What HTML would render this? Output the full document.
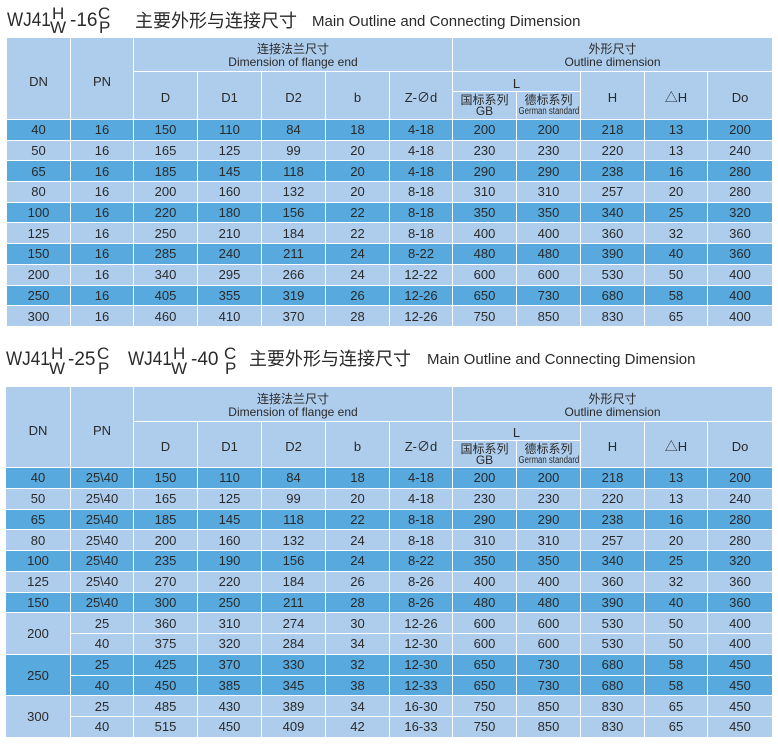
<!DOCTYPE html>
<html><head><meta charset="utf-8">
<style>
*{margin:0;padding:0;box-sizing:border-box}
body{width:778px;height:744px;background:#fff;position:relative;overflow:hidden;font-family:"Liberation Sans","Noto Sans CJK SC",sans-serif;color:#2a2a2a}
.t{position:absolute;white-space:nowrap;line-height:1}
.big{font-size:19px}
.sx{transform:scaleX(0.9);transform-origin:0 0}
.sm{font-size:17px}
.cn{font-size:18px;line-height:18px}
.en{font-size:15px}
.g{position:absolute;display:grid;gap:1px;background:#fff}
.g1{left:7px;top:38px;width:765px;grid-template-columns:63px 62px 63px 63px 63px 63px 62px 63px 63px 63px 62px 64px;grid-template-rows:33px 19px 27px repeat(10,19.7px)}
.g2{left:6px;top:387px;width:766px;grid-template-columns:64px 62px 63px 63px 63px 63px 62px 63px 63px 63px 62px 64px;grid-template-rows:34px 18px 26px repeat(13,19.75px)}
.g>*{display:flex;align-items:center;justify-content:center;text-align:center;font-size:13px;background:#aecdec;font-style:normal;font-weight:normal;white-space:nowrap;line-height:1;overflow:hidden}
.g>b{background:#57a9de}
.g>.h1{grid-row:span 3;padding-top:6px}
.g>.h2{grid-column:span 5;flex-direction:column;line-height:13px;font-size:12px;padding-top:3px}
.g>.h3{grid-row:span 2;padding-top:4px}
.g>.hL{grid-column:span 2;padding-top:3px}
.g>.h4{flex-direction:column;line-height:11px;font-size:12px;padding-top:1px}
.g>.r2{grid-row:span 2}
.gs{display:inline-block;font-size:10px;transform:scaleX(0.78);transform-origin:50% 50%;letter-spacing:0}
</style></head><body>

<div class="t big sx" style="left:7px;top:11px">WJ41</div>
<div class="t sm" style="left:52px;top:5px">H</div>
<div class="t sm" style="left:50px;top:19px">W</div>
<div class="t big" style="left:70px;top:11px">-16</div>
<div class="t sm" style="left:98px;top:5px">C</div>
<div class="t sm" style="left:99px;top:19px">P</div>
<div class="t cn" style="left:135px;top:12px">主要外形与连接尺寸</div>
<div class="t en" style="left:312px;top:14px">Main Outline and Connecting Dimension</div>

<div class="g g1">
<i class="h1">DN</i>
<i class="h1">PN</i>
<i class="h2"><span>连接法兰尺寸</span><span>Dimension of flange end</span></i>
<i class="h2"><span>外形尺寸</span><span>Outline dimension</span></i>
<i class="h3">D</i><i class="h3">D1</i><i class="h3">D2</i><i class="h3">b</i><i class="h3">Z-∅d</i>
<i class="hL">L</i>
<i class="h3">H</i><i class="h3">△H</i><i class="h3">Do</i>
<i class="h4"><span>国标系列</span><span>GB</span></i>
<i class="h4"><span>德标系列</span><span class="gs">German standard</span></i>

<b>40</b><b>16</b><b>150</b><b>110</b><b>84</b><b>18</b><b>4-18</b><b>200</b><b>200</b><b>218</b><b>13</b><b>200</b>
<i>50</i><i>16</i><i>165</i><i>125</i><i>99</i><i>20</i><i>4-18</i><i>230</i><i>230</i><i>220</i><i>13</i><i>240</i>
<b>65</b><b>16</b><b>185</b><b>145</b><b>118</b><b>20</b><b>4-18</b><b>290</b><b>290</b><b>238</b><b>16</b><b>280</b>
<i>80</i><i>16</i><i>200</i><i>160</i><i>132</i><i>20</i><i>8-18</i><i>310</i><i>310</i><i>257</i><i>20</i><i>280</i>
<b>100</b><b>16</b><b>220</b><b>180</b><b>156</b><b>22</b><b>8-18</b><b>350</b><b>350</b><b>340</b><b>25</b><b>320</b>
<i>125</i><i>16</i><i>250</i><i>210</i><i>184</i><i>22</i><i>8-18</i><i>400</i><i>400</i><i>360</i><i>32</i><i>360</i>
<b>150</b><b>16</b><b>285</b><b>240</b><b>211</b><b>24</b><b>8-22</b><b>480</b><b>480</b><b>390</b><b>40</b><b>360</b>
<i>200</i><i>16</i><i>340</i><i>295</i><i>266</i><i>24</i><i>12-22</i><i>600</i><i>600</i><i>530</i><i>50</i><i>400</i>
<b>250</b><b>16</b><b>405</b><b>355</b><b>319</b><b>26</b><b>12-26</b><b>650</b><b>730</b><b>680</b><b>58</b><b>400</b>
<i>300</i><i>16</i><i>460</i><i>410</i><i>370</i><i>28</i><i>12-26</i><i>750</i><i>850</i><i>830</i><i>65</i><i>400</i>
</div>

<div class="t big sx" style="left:6px;top:350px">WJ41</div>
<div class="t sm" style="left:51px;top:345px">H</div>
<div class="t sm" style="left:49px;top:360px">W</div>
<div class="t big" style="left:68px;top:350px">-25</div>
<div class="t sm" style="left:97px;top:345px">C</div>
<div class="t sm" style="left:98px;top:360px">P</div>
<div class="t big sx" style="left:128px;top:350px">WJ41</div>
<div class="t sm" style="left:173px;top:345px">H</div>
<div class="t sm" style="left:171px;top:360px">W</div>
<div class="t big" style="left:191px;top:350px">-40</div>
<div class="t sm" style="left:224px;top:345px">C</div>
<div class="t sm" style="left:225px;top:360px">P</div>
<div class="t cn" style="left:249px;top:350px">主要外形与连接尺寸</div>
<div class="t en" style="left:427px;top:352px">Main Outline and Connecting Dimension</div>

<div class="g g2">
<i class="h1">DN</i>
<i class="h1">PN</i>
<i class="h2"><span>连接法兰尺寸</span><span>Dimension of flange end</span></i>
<i class="h2"><span>外形尺寸</span><span>Outline dimension</span></i>
<i class="h3">D</i><i class="h3">D1</i><i class="h3">D2</i><i class="h3">b</i><i class="h3">Z-∅d</i>
<i class="hL">L</i>
<i class="h3">H</i><i class="h3">△H</i><i class="h3">Do</i>
<i class="h4"><span>国标系列</span><span>GB</span></i>
<i class="h4"><span>德标系列</span><span class="gs">German standard</span></i>

<b>40</b><b>25\40</b><b>150</b><b>110</b><b>84</b><b>18</b><b>4-18</b><b>200</b><b>200</b><b>218</b><b>13</b><b>200</b>
<i>50</i><i>25\40</i><i>165</i><i>125</i><i>99</i><i>20</i><i>4-18</i><i>230</i><i>230</i><i>220</i><i>13</i><i>240</i>
<b>65</b><b>25\40</b><b>185</b><b>145</b><b>118</b><b>22</b><b>8-18</b><b>290</b><b>290</b><b>238</b><b>16</b><b>280</b>
<i>80</i><i>25\40</i><i>200</i><i>160</i><i>132</i><i>24</i><i>8-18</i><i>310</i><i>310</i><i>257</i><i>20</i><i>280</i>
<b>100</b><b>25\40</b><b>235</b><b>190</b><b>156</b><b>24</b><b>8-22</b><b>350</b><b>350</b><b>340</b><b>25</b><b>320</b>
<i>125</i><i>25\40</i><i>270</i><i>220</i><i>184</i><i>26</i><i>8-26</i><i>400</i><i>400</i><i>360</i><i>32</i><i>360</i>
<b>150</b><b>25\40</b><b>300</b><b>250</b><b>211</b><b>28</b><b>8-26</b><b>480</b><b>480</b><b>390</b><b>40</b><b>360</b>
<i class="r2">200</i><i>25</i><i>360</i><i>310</i><i>274</i><i>30</i><i>12-26</i><i>600</i><i>600</i><i>530</i><i>50</i><i>400</i>
<i>40</i><i>375</i><i>320</i><i>284</i><i>34</i><i>12-30</i><i>600</i><i>600</i><i>530</i><i>50</i><i>400</i>
<b class="r2">250</b><b>25</b><b>425</b><b>370</b><b>330</b><b>32</b><b>12-30</b><b>650</b><b>730</b><b>680</b><b>58</b><b>450</b>
<b>40</b><b>450</b><b>385</b><b>345</b><b>38</b><b>12-33</b><b>650</b><b>730</b><b>680</b><b>58</b><b>450</b>
<i class="r2">300</i><i>25</i><i>485</i><i>430</i><i>389</i><i>34</i><i>16-30</i><i>750</i><i>850</i><i>830</i><i>65</i><i>450</i>
<i>40</i><i>515</i><i>450</i><i>409</i><i>42</i><i>16-33</i><i>750</i><i>850</i><i>830</i><i>65</i><i>450</i>
</div>

</body></html>
